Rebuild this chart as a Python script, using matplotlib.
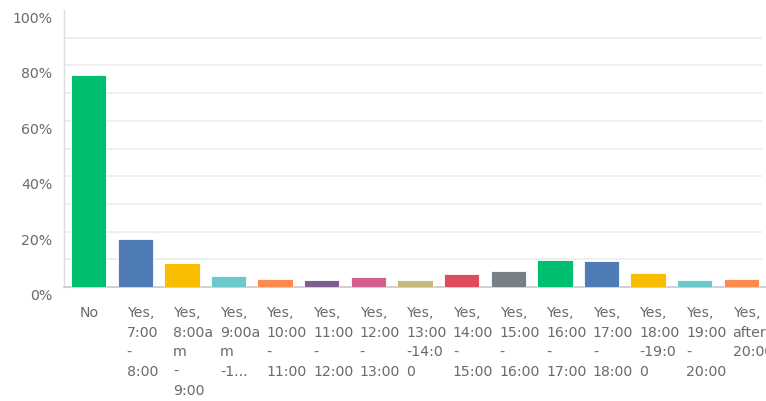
import matplotlib
matplotlib.use("Agg")
import matplotlib.pyplot as plt
import matplotlib.transforms as mtransforms
from matplotlib.ticker import FuncFormatter

# Share of respondents per answer (percent)
categories = [
    "No",
    "Yes,\n7:00\n-\n8:00",
    "Yes,\n8:00a\nm\n-\n9:00",
    "Yes,\n9:00a\nm\n-1...",
    "Yes,\n10:00\n-\n11:00",
    "Yes,\n11:00\n-\n12:00",
    "Yes,\n12:00\n-\n13:00",
    "Yes,\n13:00\n-14:0\n0",
    "Yes,\n14:00\n-\n15:00",
    "Yes,\n15:00\n-\n16:00",
    "Yes,\n16:00\n-\n17:00",
    "Yes,\n17:00\n-\n18:00",
    "Yes,\n18:00\n-19:0\n0",
    "Yes,\n19:00\n-\n20:00",
    "Yes,\nafter\n20:00",
]
values = [76.5, 17.3, 8.7, 4.0, 3.0, 2.5, 3.5, 2.4, 4.6, 5.9, 9.9, 9.5, 5.1, 2.5, 3.0]
colors = [
    "#00bf6f", "#507cb6", "#f9be00", "#6bc8cd", "#ff8b4f",
    "#7f5f90", "#d25f90", "#c7b879", "#de4c5e", "#768086",
    "#00bf6f", "#507cb6", "#f9be00", "#6bc8cd", "#ff8b4f",
]
y_ticks = [0, 20, 40, 60, 80, 100]
grid_levels = [10, 20, 30, 40, 50, 60, 70, 80, 90]

fig = plt.figure(figsize=(7.66, 4.01), dpi=100)
ax = fig.add_axes([64 / 766, 1 - 287 / 401, 1 - 64 / 766, 277 / 401])

x = range(len(categories))
ax.bar(x, values, width=0.76, color=colors, edgecolor="white", linewidth=0.6, zorder=3)

ax.set_xlim(-0.53, len(categories) - 0.47)
ax.set_ylim(0, 100)

# light horizontal grid every 10% (none on the top edge)
ax.hlines(grid_levels, 0, 0.995, transform=ax.get_yaxis_transform(),
          color="#eeeeee", linewidth=1.3, zorder=0)

ax.set_yticks(y_ticks)
ax.yaxis.set_major_formatter(FuncFormatter(lambda v, p: f"{int(v)}%"))
ax.tick_params(axis="y", length=0, pad=8.5, labelsize=10.2, labelcolor="#6b6b6b")
down = mtransforms.ScaledTranslation(0, -7.5 / 100, fig.dpi_scale_trans)
for lbl in ax.get_yticklabels():
    lbl.set_transform(lbl.get_transform() + down)

ax.set_xticks(list(x))
ax.set_xticklabels(categories, ha="left", multialignment="left", linespacing=1.5)
ax.tick_params(axis="x", length=0, pad=14, labelsize=10.2, labelcolor="#6b6b6b")
shift = mtransforms.ScaledTranslation(-8.7 / 100, 0, fig.dpi_scale_trans)
for lbl in ax.get_xticklabels():
    lbl.set_transform(lbl.get_transform() + shift)

for side in ("top", "right"):
    ax.spines[side].set_visible(False)
ax.spines["left"].set_color("#dddddd")
ax.spines["left"].set_linewidth(1.0)
ax.spines["bottom"].set_color("#c8c8c8")
ax.spines["bottom"].set_linewidth(1.2)

fig.savefig("out.png", dpi=100)
